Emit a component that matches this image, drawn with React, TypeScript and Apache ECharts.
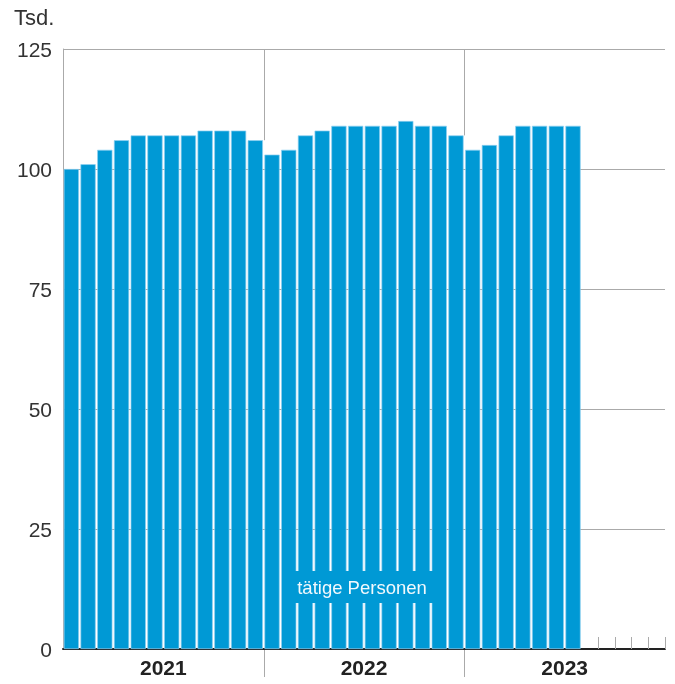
import React, { useEffect, useRef } from "react";
import * as echarts from "echarts";

const years = ["2021", "2022", "2023"];
const monthNames = ["Jan", "Feb", "Mär", "Apr", "Mai", "Jun", "Jul", "Aug", "Sep", "Okt", "Nov", "Dez"];
const persons = [
  100, 101, 104, 106, 107, 107, 107, 107, 108, 108, 108, 106,
  103, 104, 107, 108, 109, 109, 109, 109, 110, 109, 109, 107,
  104, 105, 107, 109, 109, 109, 109,
];
const yearBoundaries = [12, 24];
const yTicks = [0, 25, 50, 75, 100, 125];
const unitLabel = "Tsd.";
const seriesLabel = "tätige Personen";

const BLUE = "#0099d5";
const GRID = "#aaaaaa";
const FONT = "'Liberation Sans', Arial, sans-serif";

export default function App() {
  const ref = useRef<HTMLDivElement>(null);
  useEffect(() => {
    if (!ref.current) return;
    const chart = echarts.init(ref.current, undefined, { renderer: "svg" });
    const months: string[] = [];
    years.forEach((y) => monthNames.forEach((m) => months.push(m + " " + y)));
    const yMax = yTicks[yTicks.length - 1];
    const nData = persons.length;
    chart.setOption({
      animation: false,
      textStyle: { fontFamily: FONT },
      grid: { left: 63, right: 10, top: 49, bottom: 35 },
      xAxis: [
        {
          type: "category",
          data: months,
          boundaryGap: true,
          axisLine: { show: true, lineStyle: { color: "#222", width: 2 } },
          axisTick: {
            show: true,
            inside: true,
            length: 12,
            interval: (index: number) => index > nData,
            lineStyle: { color: GRID, width: 1 },
          },
          axisLabel: { show: false },
          splitLine: { show: false },
        },
        {
          type: "category",
          data: years,
          position: "bottom",
          axisLine: { show: false },
          axisTick: { show: false },
          axisLabel: { show: true, fontSize: 21, fontWeight: "bold", color: "#222", margin: 8, fontFamily: FONT },
          splitLine: { show: false },
        },
      ],
      yAxis: {
        type: "value",
        min: 0,
        max: yMax,
        interval: 25,
        axisLine: { show: true, lineStyle: { color: GRID, width: 1 } },
        axisTick: { show: false },
        axisLabel: { fontSize: 21, color: "#333", margin: 11, fontFamily: FONT },
        splitLine: { show: true, lineStyle: { color: GRID, width: 1 } },
      },
      series: [
        {
          type: "custom",
          xAxisIndex: 0,
          yAxisIndex: 0,
          z: 1,
          silent: true,
          clip: false,
          data: yearBoundaries.map((b) => [b, Math.max(persons[b - 1] ?? 0, persons[b] ?? 0)]),
          renderItem: (params: any, api: any) => {
            const base = api.coord([api.value(0), 0]);
            const barTop = api.coord([api.value(0), api.value(1)]);
            const bw = api.size([1, 0])[0];
            const x = Math.round(base[0] - bw / 2) + 0.5;
            const top = api.coord([0, yMax])[1];
            return {
              type: "group",
              children: [
                {
                  type: "line",
                  shape: { x1: x, y1: top, x2: x, y2: barTop[1] },
                  style: { stroke: GRID, lineWidth: 1 },
                },
                {
                  type: "line",
                  shape: { x1: x, y1: base[1] + 1, x2: x, y2: base[1] + 28 },
                  style: { stroke: GRID, lineWidth: 1 },
                },
              ],
            };
          },
        },
        {
          type: "bar",
          name: seriesLabel,
          xAxisIndex: 0,
          yAxisIndex: 0,
          data: persons,
          barCategoryGap: "9%",
          itemStyle: { color: BLUE, borderColor: "#8fd0f0", borderWidth: 0.7 },
          z: 2,
        },
      ],
      graphic: [
        {
          type: "text",
          left: 14,
          top: 6,
          z: 100,
          style: { text: unitLabel, fontSize: 22, fill: "#333", fontFamily: FONT },
        },
        {
          type: "rect",
          left: 282,
          top: 571,
          z: 100,
          shape: { width: 164, height: 32 },
          style: { fill: BLUE },
        },
        {
          type: "text",
          x: 362,
          y: 587,
          z: 101,
          style: {
            text: seriesLabel,
            fontSize: 18.5,
            fill: "#f2f9fd",
            fontFamily: FONT,
            align: "center",
            verticalAlign: "middle",
          },
        },
      ],
    });
    return () => chart.dispose();
  }, []);
  return (
    <div
      ref={ref}
      style={{ position: "fixed", left: 0, top: 0, width: 675, height: 684 }}
    />
  );
}
